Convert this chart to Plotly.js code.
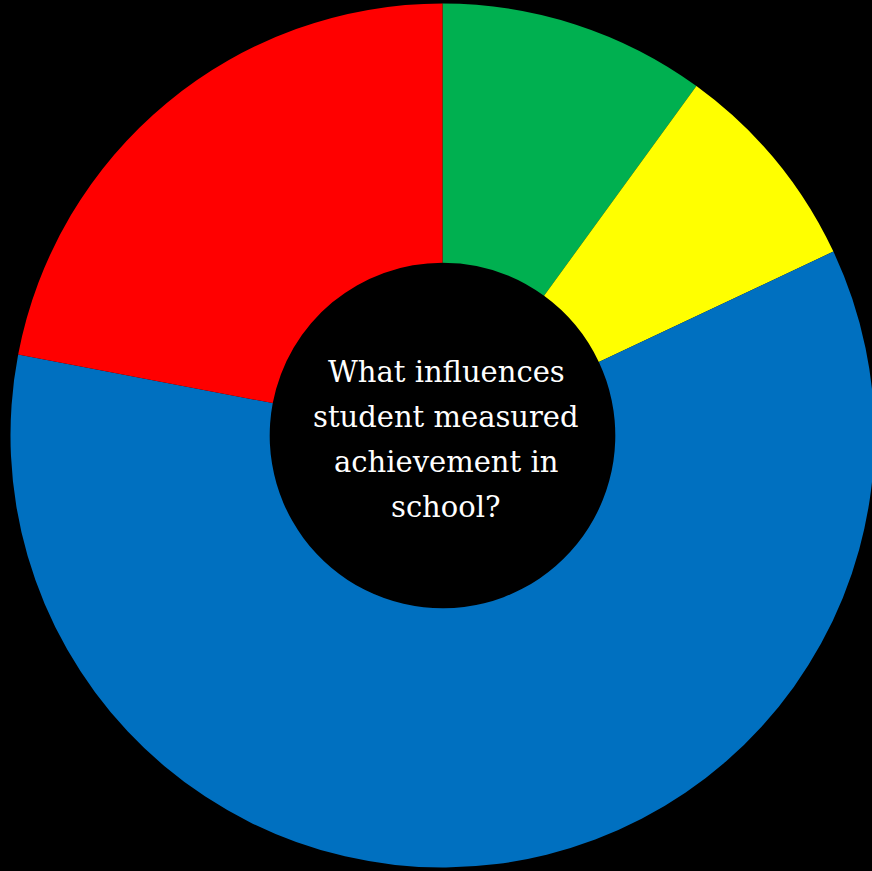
<!DOCTYPE html>
<html>
<head>
<meta charset="utf-8">
<script src="https://cdn.plot.ly/plotly-3.0.1.min.js"></script>
<style>
html, body { margin: 0; padding: 0; background: #000; overflow: hidden; }
#chart { width: 885px; height: 871px; }
</style>
</head>
<body>
<div id="chart"></div>
<script>
const categories = ["Green factor", "Yellow factor", "Blue factor", "Red factor"];
const values = [10, 8, 60, 22];
const colors = ["#00B050", "#FFFF00", "#0070C0", "#FF0000"];
const centerLines = ["What influences", "student measured", "achievement in", "school?"];

const W = 885, H = 871;
const cx = 442.5, cy = 435.5, R = 432;
const lineY = [372, 417, 462, 507];

const trace = {
  type: "pie",
  labels: categories,
  values: values,
  marker: { colors: colors, line: { width: 0 } },
  hole: 0.4,
  sort: false,
  direction: "clockwise",
  rotation: 0,
  textinfo: "none",
  hoverinfo: "label+percent",
  showlegend: false,
  domain: {
    x: [(cx - R) / W, (cx + R) / W],
    y: [(H - cy - R) / H, (H - cy + R) / H]
  }
};

const annotations = centerLines.map((t, i) => ({
  text: t,
  showarrow: false,
  xref: "paper", yref: "paper",
  x: 446 / W, y: (H - lineY[i]) / H,
  xanchor: "center", yanchor: "middle",
  font: { family: "DejaVu Serif, serif", size: 29, color: "#FFFFFF" }
}));

const layout = {
  width: W, height: H,
  margin: { l: 0, r: 0, t: 0, b: 0, pad: 0 },
  paper_bgcolor: "#000000",
  plot_bgcolor: "#000000",
  showlegend: false,
  annotations: annotations
};

Plotly.newPlot("chart", [trace], layout, { displayModeBar: false, staticPlot: true });
</script>
</body>
</html>
